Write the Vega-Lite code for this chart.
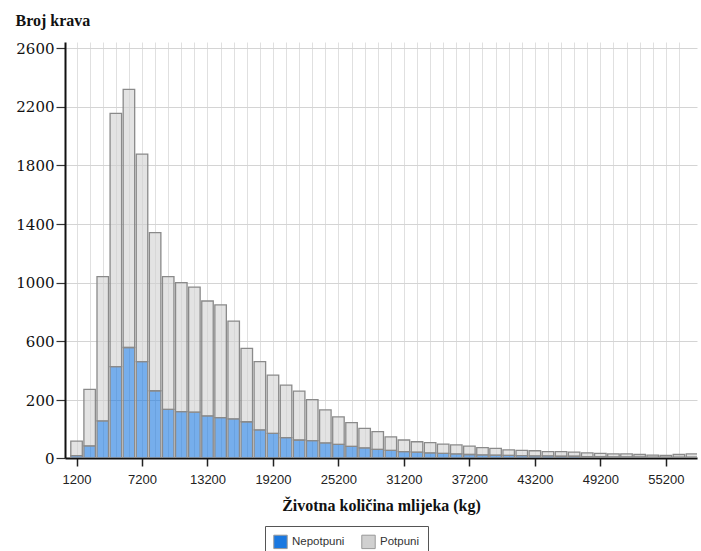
{
  "$schema": "https://vega.github.io/schema/vega-lite/v6.json",
  "width": 632,
  "height": 416,
  "autosize": {"type": "none"},
  "padding": {"left": 65, "top": 42, "right": 4, "bottom": 93},
  "background": "white",
  "config": {"view": {"stroke": null}},
  "data": {"values": [
    {"mid": 1200, "type": "Nepotpuni", "count": 8}, {"mid": 1200, "type": "Potpuni", "count": 50},
    {"mid": 2400, "type": "Nepotpuni", "count": 42}, {"mid": 2400, "type": "Potpuni", "count": 230},
    {"mid": 3600, "type": "Nepotpuni", "count": 128}, {"mid": 3600, "type": "Potpuni", "count": 913},
    {"mid": 4800, "type": "Nepotpuni", "count": 427}, {"mid": 4800, "type": "Potpuni", "count": 1728},
    {"mid": 6000, "type": "Nepotpuni", "count": 558}, {"mid": 6000, "type": "Potpuni", "count": 1760},
    {"mid": 7200, "type": "Nepotpuni", "count": 461}, {"mid": 7200, "type": "Potpuni", "count": 1416},
    {"mid": 8400, "type": "Nepotpuni", "count": 263}, {"mid": 8400, "type": "Potpuni", "count": 1078},
    {"mid": 9600, "type": "Nepotpuni", "count": 168}, {"mid": 9600, "type": "Potpuni", "count": 873},
    {"mid": 10800, "type": "Nepotpuni", "count": 160}, {"mid": 10800, "type": "Potpuni", "count": 840},
    {"mid": 12000, "type": "Nepotpuni", "count": 158}, {"mid": 12000, "type": "Potpuni", "count": 812},
    {"mid": 13200, "type": "Nepotpuni", "count": 145}, {"mid": 13200, "type": "Potpuni", "count": 730},
    {"mid": 14400, "type": "Nepotpuni", "count": 139}, {"mid": 14400, "type": "Potpuni", "count": 709},
    {"mid": 15600, "type": "Nepotpuni", "count": 135}, {"mid": 15600, "type": "Potpuni", "count": 603},
    {"mid": 16800, "type": "Nepotpuni", "count": 125}, {"mid": 16800, "type": "Potpuni", "count": 427},
    {"mid": 18000, "type": "Nepotpuni", "count": 97}, {"mid": 18000, "type": "Potpuni", "count": 365},
    {"mid": 19200, "type": "Nepotpuni", "count": 85}, {"mid": 19200, "type": "Potpuni", "count": 285},
    {"mid": 20400, "type": "Nepotpuni", "count": 70}, {"mid": 20400, "type": "Potpuni", "count": 232},
    {"mid": 21600, "type": "Nepotpuni", "count": 62}, {"mid": 21600, "type": "Potpuni", "count": 199},
    {"mid": 22800, "type": "Nepotpuni", "count": 60}, {"mid": 22800, "type": "Potpuni", "count": 142},
    {"mid": 24000, "type": "Nepotpuni", "count": 52}, {"mid": 24000, "type": "Potpuni", "count": 114},
    {"mid": 25200, "type": "Nepotpuni", "count": 47}, {"mid": 25200, "type": "Potpuni", "count": 95},
    {"mid": 26400, "type": "Nepotpuni", "count": 40}, {"mid": 26400, "type": "Potpuni", "count": 82},
    {"mid": 27600, "type": "Nepotpuni", "count": 35}, {"mid": 27600, "type": "Potpuni", "count": 67},
    {"mid": 28800, "type": "Nepotpuni", "count": 30}, {"mid": 28800, "type": "Potpuni", "count": 61},
    {"mid": 30000, "type": "Nepotpuni", "count": 26}, {"mid": 30000, "type": "Potpuni", "count": 47},
    {"mid": 31200, "type": "Nepotpuni", "count": 22}, {"mid": 31200, "type": "Potpuni", "count": 40},
    {"mid": 32400, "type": "Nepotpuni", "count": 20}, {"mid": 32400, "type": "Potpuni", "count": 36},
    {"mid": 33600, "type": "Nepotpuni", "count": 18}, {"mid": 33600, "type": "Potpuni", "count": 35},
    {"mid": 34800, "type": "Nepotpuni", "count": 16}, {"mid": 34800, "type": "Potpuni", "count": 32},
    {"mid": 36000, "type": "Nepotpuni", "count": 14}, {"mid": 36000, "type": "Potpuni", "count": 31},
    {"mid": 37200, "type": "Nepotpuni", "count": 12}, {"mid": 37200, "type": "Potpuni", "count": 29},
    {"mid": 38400, "type": "Nepotpuni", "count": 11}, {"mid": 38400, "type": "Potpuni", "count": 25},
    {"mid": 39600, "type": "Nepotpuni", "count": 10}, {"mid": 39600, "type": "Potpuni", "count": 23},
    {"mid": 40800, "type": "Nepotpuni", "count": 9}, {"mid": 40800, "type": "Potpuni", "count": 19},
    {"mid": 42000, "type": "Nepotpuni", "count": 8}, {"mid": 42000, "type": "Potpuni", "count": 18},
    {"mid": 43200, "type": "Nepotpuni", "count": 7}, {"mid": 43200, "type": "Potpuni", "count": 18},
    {"mid": 44400, "type": "Nepotpuni", "count": 7}, {"mid": 44400, "type": "Potpuni", "count": 15},
    {"mid": 45600, "type": "Nepotpuni", "count": 6}, {"mid": 45600, "type": "Potpuni", "count": 16},
    {"mid": 46800, "type": "Nepotpuni", "count": 6}, {"mid": 46800, "type": "Potpuni", "count": 14},
    {"mid": 48000, "type": "Nepotpuni", "count": 5}, {"mid": 48000, "type": "Potpuni", "count": 13},
    {"mid": 49200, "type": "Nepotpuni", "count": 5}, {"mid": 49200, "type": "Potpuni", "count": 11},
    {"mid": 50400, "type": "Nepotpuni", "count": 4}, {"mid": 50400, "type": "Potpuni", "count": 10},
    {"mid": 51600, "type": "Nepotpuni", "count": 4}, {"mid": 51600, "type": "Potpuni", "count": 10},
    {"mid": 52800, "type": "Nepotpuni", "count": 4}, {"mid": 52800, "type": "Potpuni", "count": 8},
    {"mid": 54000, "type": "Nepotpuni", "count": 3}, {"mid": 54000, "type": "Potpuni", "count": 7},
    {"mid": 55200, "type": "Nepotpuni", "count": 3}, {"mid": 55200, "type": "Potpuni", "count": 6},
    {"mid": 56400, "type": "Nepotpuni", "count": 3}, {"mid": 56400, "type": "Potpuni", "count": 9},
    {"mid": 57600, "type": "Nepotpuni", "count": 3}, {"mid": 57600, "type": "Potpuni", "count": 11}
  ]},
  "mark": {"type": "bar", "size": 11.5, "fillOpacity": 0.6, "stroke": "#8a8a8a", "strokeWidth": 1.3, "clip": true},
  "encoding": {
    "x": {
      "field": "mid", "type": "quantitative",
      "scale": {"domain": [600, 57600], "nice": false, "zero": false},
      "axis": {
        "values": [1200, 2400, 3600, 4800, 6000, 7200, 8400, 9600, 10800, 12000, 13200, 14400, 15600, 16800, 18000, 19200, 20400, 21600, 22800, 24000, 25200, 26400, 27600, 28800, 30000, 31200, 32400, 33600, 34800, 36000, 37200, 38400, 39600, 40800, 42000, 43200, 44400, 45600, 46800, 48000, 49200, 50400, 51600, 52800, 54000, 55200, 56400],
        "format": "d",
        "labelExpr": "datum.value % 6000 == 1200 ? datum.label : ''",
        "labelFont": "Liberation Sans", "labelFontSize": 13, "labelColor": "#222",
        "labelPadding": 7, "labelOverlap": false,
        "tickSize": 8, "tickColor": "#222", "tickWidth": 1.5,
        "tickOpacity": {"condition": {"test": "datum.value % 6000 == 1200", "value": 1}, "value": 0},
        "domainColor": "#111", "domainWidth": 2,
        "grid": true, "gridColor": "#e0e0e0", "gridWidth": 1,
        "title": "Životna količina mlijeka (kg)",
        "titleFont": "Liberation Serif", "titleFontSize": 16, "titleFontWeight": "bold", "titleColor": "#111",
        "titleBaseline": "alphabetic", "titleY": 52
      }
    },
    "y": {
      "field": "count", "type": "quantitative", "stack": "zero",
      "scale": {"domain": [0, 200, 2641], "range": [416, 358, 0]},
      "axis": {
        "values": [0, 200, 600, 1000, 1400, 1800, 2200, 2600],
        "format": "d",
        "labelFont": "DejaVu Serif", "labelFontSize": 15, "labelColor": "#111",
        "labelPadding": 2,
        "tickSize": 9, "tickColor": "#333", "tickWidth": 1.2,
        "domainColor": "#111", "domainWidth": 2,
        "grid": true, "gridColor": "#d4d4d4", "gridWidth": 1,
        "title": "Broj krava",
        "titleFont": "Liberation Serif", "titleFontSize": 16, "titleFontWeight": "bold", "titleColor": "#111",
        "titleAngle": 0, "titleAlign": "left", "titleBaseline": "alphabetic",
        "titleX": -50, "titleY": -17
      }
    },
    "order": {"field": "type", "sort": "ascending"},
    "color": {
      "field": "type", "type": "nominal",
      "scale": {"domain": ["Nepotpuni", "Potpuni"], "range": ["#1a78e0", "#d0d0d0"]},
      "legend": {
        "orient": "none", "legendX": 200, "legendY": 484,
        "direction": "horizontal", "title": null,
        "symbolType": "square", "symbolSize": 180, "symbolOpacity": 1, "symbolFillOpacity": 1,
        "symbolStrokeColor": "#999", "symbolStrokeWidth": 1,
        "labelFont": "Liberation Sans", "labelFontSize": 11.5, "labelColor": "#333", "labelOffset": 4,
        "columnPadding": 14, "padding": 8,
        "strokeColor": "#555", "fillColor": "white"
      }
    }
  }
}
